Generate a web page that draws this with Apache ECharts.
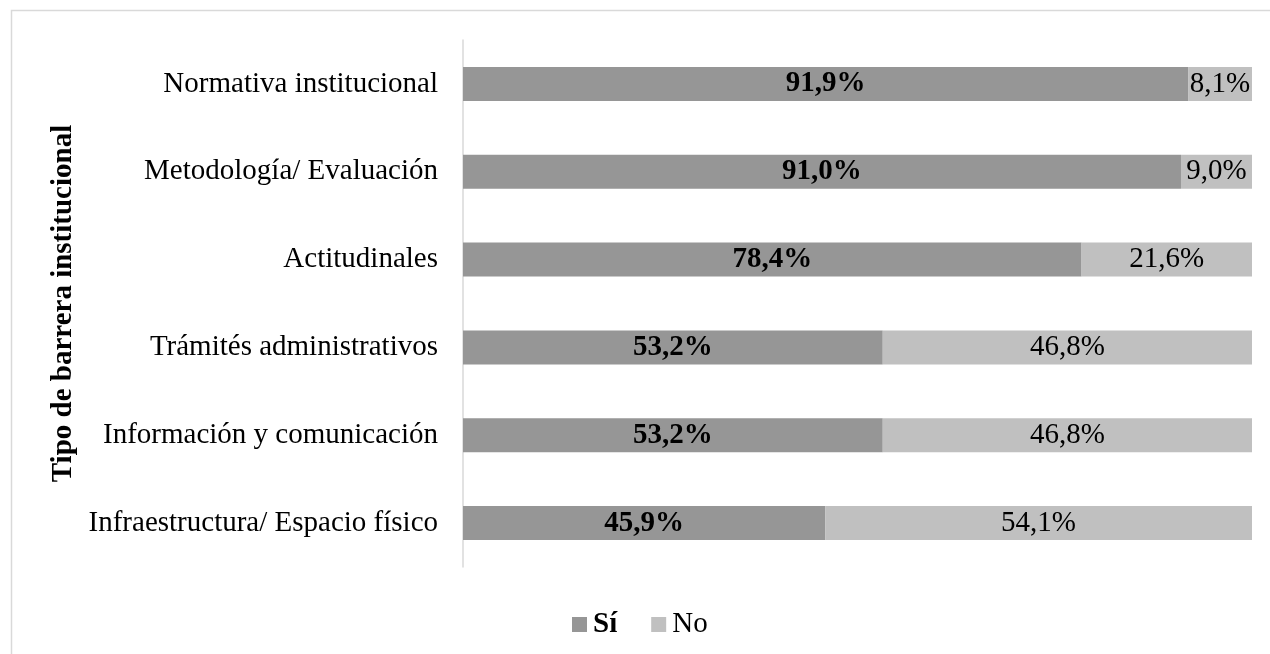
<!DOCTYPE html>
<html><head><meta charset="utf-8">
<script src="https://cdn.jsdelivr.net/npm/echarts@6/dist/echarts.min.js"></script>
<style>html,body{margin:0;padding:0;background:#fff}#c{width:1270px;height:654px}</style>
</head><body><div id="c"></div>
<script>
const categories = ['Normativa institucional','Metodología/ Evaluación','Actitudinales','Trámités administrativos','Información y comunicación','Infraestructura/ Espacio físico'];
const siValues = [91.9, 91.0, 78.4, 53.2, 53.2, 45.9];
const noValues = [8.1, 9.0, 21.6, 46.8, 46.8, 54.1];
const axisTitle = 'Tipo de barrera institucional';
const seriesNames = ['Sí', 'No'];

const font = '"Liberation Serif", "Times New Roman", serif';
const fs = 29;
const fmt = p => p.value.toFixed(1).replace('.', ',') + '%';
const chart = echarts.init(document.getElementById('c'), null, {renderer: 'canvas'});
chart.setOption({
  animation: false,
  backgroundColor: '#fff',
  graphic: [{type: 'rect', shape: {x: 11.5, y: 10.5, width: 1400, height: 1000}, style: {fill: 'none', stroke: '#d9d9d9', lineWidth: 1.5}, z: -1}],
  legend: {
    bottom: 10, left: 567, itemWidth: 15, itemHeight: 15, itemGap: 34, icon: 'rect',
    textStyle: {fontFamily: font, fontSize: fs, color: '#000', padding: [0, 0, 0, 1]},
    data: [{name: seriesNames[0], textStyle: {fontWeight: 'bold'}}, {name: seriesNames[1]}]
  },
  grid: {left: 463, right: 18, top: 40, bottom: 87},
  xAxis: {type: 'value', min: 0, max: 100, show: false},
  yAxis: {
    type: 'category', data: categories, inverse: true,
    axisLine: {lineStyle: {color: '#d9d9d9', width: 1.5}}, axisTick: {show: false},
    axisLabel: {fontFamily: font, fontSize: fs, color: '#000', margin: 25},
    name: axisTitle, nameLocation: 'middle', nameGap: 360, nameRotate: 90,
    nameTextStyle: {fontFamily: font, fontSize: fs, fontWeight: 'bold', color: '#000'}
  },
  series: [
    {name: seriesNames[0], type: 'bar', stack: 't', data: siValues, barWidth: 34,
     itemStyle: {color: '#969696'},
     label: {show: true, position: 'inside', formatter: fmt, fontFamily: font, fontSize: fs, fontWeight: 'bold', color: '#000'}},
    {name: seriesNames[1], type: 'bar', stack: 't', data: noValues, barWidth: 34,
     itemStyle: {color: '#c0c0c0'},
     label: {show: true, position: 'inside', formatter: fmt, fontFamily: font, fontSize: fs, color: '#000'}}
  ]
});
</script></body></html>
